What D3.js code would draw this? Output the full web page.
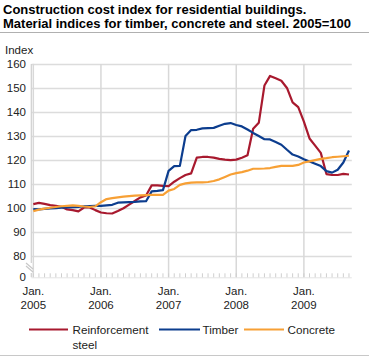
<!DOCTYPE html>
<html><head><meta charset="utf-8">
<script src="https://cdn.jsdelivr.net/npm/d3@7"></script>
<style>body{margin:0;background:#fff}svg{display:block;font-family:"Liberation Sans",Arial,sans-serif}</style>
</head><body><svg id="c" width="369" height="356"></svg>
<script>
const months = ["2005-01","2005-02","2005-03","2005-04","2005-05","2005-06","2005-07","2005-08","2005-09","2005-10","2005-11","2005-12",
"2006-01","2006-02","2006-03","2006-04","2006-05","2006-06","2006-07","2006-08","2006-09","2006-10","2006-11","2006-12",
"2007-01","2007-02","2007-03","2007-04","2007-05","2007-06","2007-07","2007-08","2007-09","2007-10","2007-11","2007-12",
"2008-01","2008-02","2008-03","2008-04","2008-05","2008-06","2008-07","2008-08","2008-09","2008-10","2008-11","2008-12",
"2009-01","2009-02","2009-03","2009-04","2009-05","2009-06","2009-07","2009-08","2009-09"];
const steel = [101.7,102.2,101.8,101.3,101.0,100.6,99.5,99.2,98.7,100.3,100.3,99.2,
98.2,97.9,97.8,98.8,100.0,101.5,103.0,104.5,105.3,109.5,109.5,109.3,
109.2,111.0,112.5,113.8,114.5,121.0,121.3,121.3,121.0,120.5,120.2,120.0,
120.2,121.0,122.0,133.0,135.5,151.0,155.0,154.0,153.0,150.0,144.0,142.0,
136.0,129.0,126.0,123.0,114.2,113.8,113.8,114.3,114.0];
const timber = [99.6,99.5,99.7,99.9,100.0,100.2,100.3,100.4,100.5,100.8,100.9,101.0,
101.0,101.2,101.4,102.3,102.4,102.5,102.6,102.8,102.9,107.0,107.2,107.5,
115.5,117.5,117.6,130.0,132.5,132.6,133.2,133.3,133.4,134.3,135.1,135.4,
134.6,134.0,132.7,131.3,130.0,128.7,128.6,127.5,126.4,124.3,122.3,121.5,
120.4,119.4,118.5,117.5,115.4,114.8,116.0,119.0,124.0];
const concrete = [98.8,99.4,99.8,100.2,100.5,100.8,101.0,101.2,101.0,100.7,100.5,100.8,
102.5,103.8,104.2,104.5,104.8,105.0,105.2,105.3,105.4,105.5,105.5,105.5,
107.3,108.0,109.7,110.3,110.6,110.7,110.7,110.9,111.3,112.0,113.0,114.0,
114.6,115.0,115.6,116.4,116.4,116.5,116.7,117.2,117.6,117.6,117.6,118.0,
119.0,119.5,120.0,120.5,120.8,121.2,121.4,121.6,121.8];
const yTicks = [0,80,90,100,110,120,130,140,150,160];
const xTickMonths = ["2005-01","2006-01","2007-01","2008-01","2009-01"];
const xTickYears = ["2005","2006","2007","2008","2009"];
const seriesNames = ["Reinforcement steel","Timber","Concrete"];
const seriesColors = ["#a8192e","#0c3d8e","#f7a035"];

const svg = d3.select("#c");
const x = d3.scaleLinear().domain([0, 56.5]).range([33.3, 351.8]);
const y = d3.scaleLinear().domain([0, 80, 160]).range([277.3, 256.3, 63.9]);
const mi = m => months.indexOf(m);

// title
svg.append("text").attr("x",3).attr("y",14).attr("font-size","13px").attr("font-weight","bold").attr("fill","#000")
  .text("Construction cost index for residential buildings.");
svg.append("text").attr("x",3).attr("y",27.5).attr("font-size","13px").attr("font-weight","bold").attr("fill","#000")
  .text("Material indices for timber, concrete and steel. 2005=100");
svg.append("line").attr("x1",0).attr("x2",369).attr("y1",32.5).attr("y2",32.5).attr("stroke","#b0b0b0").attr("stroke-width",1);
svg.append("line").attr("x1",0).attr("x2",369).attr("y1",355.5).attr("y2",355.5).attr("stroke","#c8c8c8").attr("stroke-width",1);

svg.append("text").attr("x",5).attr("y",54).attr("font-size","11.5px").attr("fill","#222").text("Index");

// horizontal grid
const gridY = yTicks.filter(v => v >= 80);
svg.append("g").selectAll("line").data(gridY).join("line")
  .attr("x1",31.5).attr("x2",351.8).attr("y1",d=>Math.round(y(d))+0.5).attr("y2",d=>Math.round(y(d))+0.5)
  .attr("stroke","#dcdcdc").attr("stroke-width",1.5);
// vertical grid at January
svg.append("g").selectAll("line").data(xTickMonths).join("line")
  .attr("x1",d=>x(mi(d))).attr("x2",d=>x(mi(d))).attr("y1",y(160)).attr("y2",y(0))
  .attr("stroke","#d8d8d8").attr("stroke-width",1.5);
// y axis line with break
svg.append("line").attr("x1",31.3).attr("x2",31.3).attr("y1",y(160)).attr("y2",263).attr("stroke","#d0d0d0").attr("stroke-width",1.2);
svg.append("line").attr("x1",31.3).attr("x2",31.3).attr("y1",273).attr("y2",y(0)).attr("stroke","#d0d0d0").attr("stroke-width",1.2);
svg.append("line").attr("x1",26).attr("x2",33).attr("y1",263).attr("y2",269).attr("stroke","#c8c8c8").attr("stroke-width",1.2);
svg.append("line").attr("x1",26).attr("x2",33).attr("y1",266).attr("y2",272).attr("stroke","#c8c8c8").attr("stroke-width",1.2);
// x axis baseline and monthly ticks
svg.append("line").attr("x1",31.3).attr("x2",351.8).attr("y1",y(0)+0.5).attr("y2",y(0)+0.5).attr("stroke","#e4e4e4").attr("stroke-width",1);
svg.append("g").selectAll("line").data(months).join("line")
  .attr("x1",(d,i)=>x(i)).attr("x2",(d,i)=>x(i)).attr("y1",y(0)-4).attr("y2",y(0))
  .attr("stroke","#cfcfcf").attr("stroke-width",1);

// y labels
svg.append("g").selectAll("text").data(yTicks).join("text")
  .attr("x",26).attr("y",d=>y(d)+4).attr("text-anchor","end").attr("font-size","11.5px").attr("fill","#222").text(d=>d);
// x labels
const xl = svg.append("g").selectAll("text").data(xTickMonths).join("text")
  .attr("text-anchor","middle").attr("font-size","11.5px").attr("fill","#222");
xl.append("tspan").attr("x",d=>x(mi(d))).attr("y",295).text("Jan.");
xl.append("tspan").attr("x",d=>x(mi(d))).attr("y",308.5).text((d,i)=>xTickYears[i]);

// lines
const line = d3.line().x((d,i)=>x(i)).y(d=>y(d));
[steel,timber,concrete].forEach((s,k)=>{
  svg.append("path").datum(s).attr("d",line).attr("fill","none").attr("stroke",seriesColors[k])
    .attr("stroke-width",2.2).attr("stroke-linejoin","round");
});

// legend
const leg = [{x1:29,x2:68,tx:72.5},{x1:159,x2:200,tx:202.5},{x1:244,x2:284,tx:287.5}];
leg.forEach((l,k)=>{
  svg.append("line").attr("x1",l.x1).attr("x2",l.x2).attr("y1",329.5).attr("y2",329.5).attr("stroke",seriesColors[k]).attr("stroke-width",2.2);
  const t = svg.append("text").attr("font-size","11.7px").attr("fill","#222");
  const parts = k===0 ? ["Reinforcement","steel"] : [seriesNames[k]];
  parts.forEach((p,j)=>t.append("tspan").attr("x",l.tx).attr("y",334+j*14.5).text(p));
});
</script></body></html>
